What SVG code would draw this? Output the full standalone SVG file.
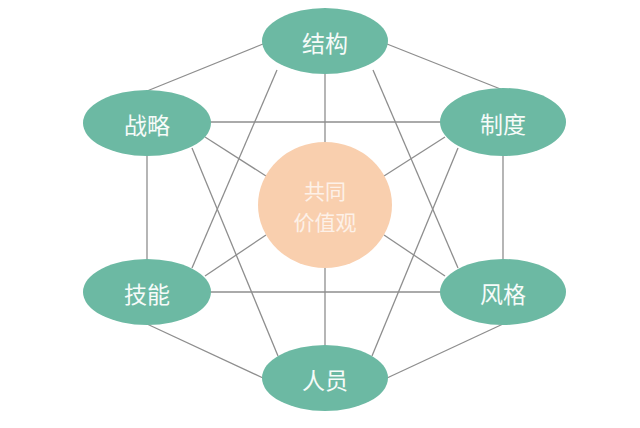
<svg xmlns="http://www.w3.org/2000/svg" width="640" height="428" viewBox="0 0 640 428">
<style>
.conn line{stroke:#8e8e8e;stroke-width:1.3;fill:none}
.node ellipse{fill:#6cb9a3}
.node text{fill:#f6fbf9;font-family:"Noto Sans CJK SC","Noto Sans",sans-serif;font-size:23px;text-anchor:middle;dominant-baseline:central}
#center ellipse{fill:#f9cfae}
#center text{fill:#fdf1e8;font-family:"Noto Sans CJK SC","Noto Sans",sans-serif;font-size:21px;text-anchor:middle;dominant-baseline:central}
</style>
<rect width="640" height="428" fill="#ffffff"/>
<g class="conn" id="connectors">
<line x1="147" y1="91" x2="263" y2="44"/>
<line x1="387" y1="44" x2="503" y2="90"/>
<line x1="147" y1="156" x2="147" y2="259"/>
<line x1="503" y1="156" x2="503" y2="259"/>
<line x1="147" y1="324" x2="263" y2="378"/>
<line x1="503" y1="324" x2="387" y2="378"/>
<line x1="210" y1="122" x2="441" y2="122"/>
<line x1="210" y1="292" x2="441" y2="292"/>
<line x1="325" y1="73" x2="325" y2="143"/>
<line x1="325" y1="267" x2="325" y2="346"/>
<line x1="277" y1="70" x2="192" y2="268"/>
<line x1="373" y1="70" x2="458" y2="268"/>
<line x1="192" y1="148" x2="278" y2="356"/>
<line x1="458" y1="148" x2="372" y2="356"/>
<line x1="205" y1="137" x2="266" y2="176"/>
<line x1="205" y1="276" x2="266" y2="235"/>
<line x1="445" y1="137" x2="384" y2="176"/>
<line x1="445" y1="276" x2="384" y2="235"/>
</g>
<g class="node" id="jiegou"><ellipse cx="325" cy="41" rx="63" ry="33"/><text x="325" y="42">结构</text></g>
<g class="node" id="zhanlue"><ellipse cx="147" cy="123" rx="64" ry="33"/><text x="147" y="124">战略</text></g>
<g class="node" id="zhidu"><ellipse cx="503" cy="122" rx="63" ry="34"/><text x="503" y="123">制度</text></g>
<g class="node" id="jineng"><ellipse cx="147" cy="292" rx="64" ry="33"/><text x="147" y="293">技能</text></g>
<g class="node" id="fengge"><ellipse cx="503" cy="292" rx="63" ry="33"/><text x="503" y="293">风格</text></g>
<g class="node" id="renyuan"><ellipse cx="325" cy="378" rx="63" ry="33"/><text x="325" y="379">人员</text></g>
<g id="center"><ellipse cx="325" cy="205" rx="67" ry="63"/><text x="325" y="190">共同</text><text x="325" y="221">价值观</text></g>
</svg>
